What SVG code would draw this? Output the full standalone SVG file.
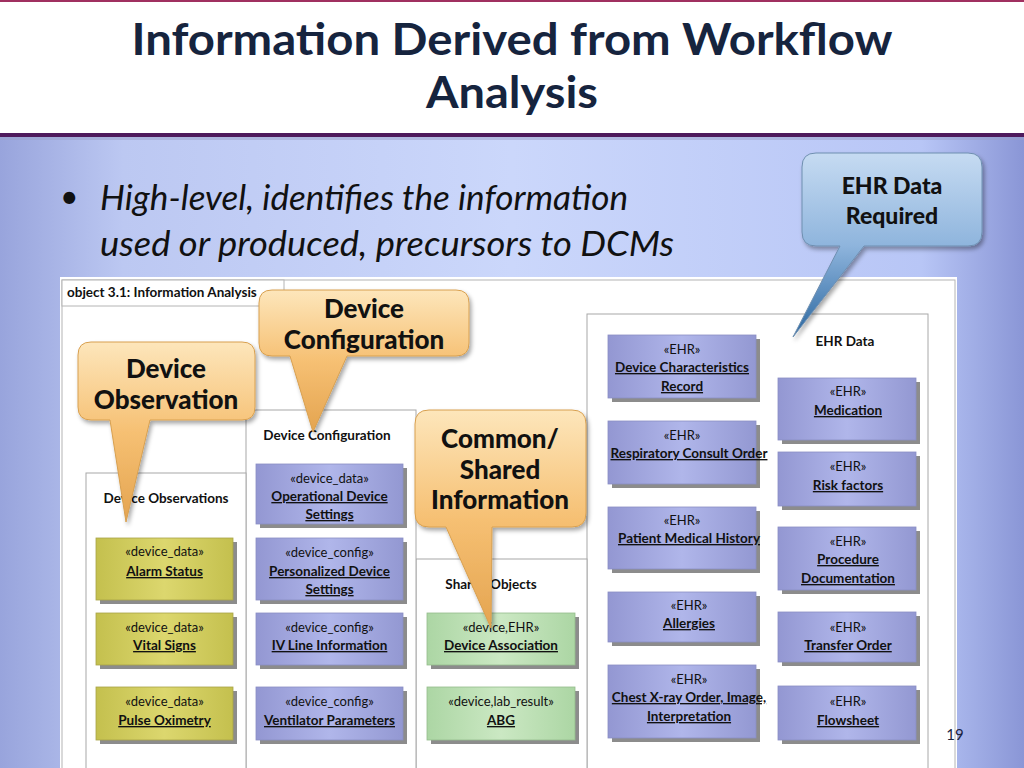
<svg xmlns="http://www.w3.org/2000/svg" width="1024" height="768" viewBox="0 0 1024 768">
<defs>
<linearGradient id="bg" x1="0" y1="0" x2="1" y2="0">
<stop offset="0" stop-color="#98a4dc"/><stop offset="0.12" stop-color="#bcc8f2"/><stop offset="0.5" stop-color="#cbd7fb"/><stop offset="0.9" stop-color="#b8c6f6"/><stop offset="1" stop-color="#8a96d6"/>
</linearGradient>
<linearGradient id="gb" x1="0" y1="0" x2="1" y2="0">
<stop offset="0" stop-color="#9397d2"/><stop offset="0.5" stop-color="#b0b6ea"/><stop offset="1" stop-color="#9398d2"/>
</linearGradient>
<linearGradient id="gy" x1="0" y1="0" x2="1" y2="0">
<stop offset="0" stop-color="#c4c04e"/><stop offset="0.5" stop-color="#dcd76e"/><stop offset="1" stop-color="#c4c04e"/>
</linearGradient>
<linearGradient id="gg" x1="0" y1="0" x2="1" y2="0">
<stop offset="0" stop-color="#acd6a4"/><stop offset="0.5" stop-color="#cbe8c3"/><stop offset="1" stop-color="#acd6a4"/>
</linearGradient>
<linearGradient id="co" x1="0" y1="0" x2="0" y2="1">
<stop offset="0" stop-color="#fde6bb"/><stop offset="0.5" stop-color="#f6c073"/><stop offset="1" stop-color="#e4a450"/>
</linearGradient>
<linearGradient id="cb" x1="0" y1="0" x2="0" y2="1">
<stop offset="0" stop-color="#c6dbf2"/><stop offset="0.5" stop-color="#8fb5dd"/><stop offset="1" stop-color="#2c68a0"/>
</linearGradient>
<filter id="sh" x="-10%" y="-10%" width="130%" height="130%">
<feDropShadow dx="2" dy="3" stdDeviation="2" flood-color="#000" flood-opacity="0.35"/>
</filter>
<style>
.pk{fill:#fff;stroke:#a8a8a8;stroke-width:1}
.sd{fill:#8c8c8c}
.b{fill:url(#gb);stroke:#8a8ec4;stroke-width:0.8}
.y{fill:url(#gy);stroke:#a8a448;stroke-width:0.8}
.g{fill:url(#gg);stroke:#94bc8c;stroke-width:0.8}
text{font-family:Lato,"Liberation Sans",sans-serif;fill:#111}
.st{font-size:13px;text-anchor:middle}
.nm{font-size:13.5px;font-weight:bold;text-anchor:middle;text-decoration:underline}
.pt{font-size:13.5px;font-weight:bold;text-anchor:middle}
.cl{font-size:26px;font-weight:900;text-anchor:middle;fill:#111}
.ocl{fill:url(#co);stroke:#d8a050;stroke-width:1;filter:url(#sh)}
.bcl{fill:url(#cb);stroke:#6f8fb0;stroke-width:1;filter:url(#sh)}
</style>
</defs>

<!-- slide background -->
<rect x="0" y="0" width="1024" height="768" fill="url(#bg)"/>
<rect x="0" y="0" width="1024" height="135" fill="#fff"/>
<rect x="0" y="0" width="1024" height="2" fill="#a03060"/>
<rect x="0" y="133" width="1024" height="4" fill="#4e1a5c"/>
<rect x="0" y="137" width="1024" height="3" fill="#9aa0c8" opacity="0.5"/>

<g id="title">
<text x="512" y="55" font-size="44" font-weight="bold" text-anchor="middle" style="fill:#16243e" textLength="761" lengthAdjust="spacingAndGlyphs">Information Derived from Workflow</text>
<text x="512" y="108" font-size="44" font-weight="bold" text-anchor="middle" style="fill:#16243e" textLength="172" lengthAdjust="spacingAndGlyphs">Analysis</text>
</g>

<g id="bullet">
<text x="60" y="208" font-size="32" style="fill:#111">•</text>
<text x="100" y="210" font-size="34" font-style="italic" textLength="528" lengthAdjust="spacingAndGlyphs">High-level, identifies the information</text>
<text x="100" y="256" font-size="34" font-style="italic" textLength="574" lengthAdjust="spacingAndGlyphs">used or produced, precursors to DCMs</text>
</g>

<!-- diagram frame -->
<g id="frame">
<rect x="60" y="277" width="897" height="491" fill="#fff"/>
<rect x="62" y="280" width="893" height="490" fill="none" stroke="#b4b4b4" stroke-width="1"/>
<rect x="62" y="280" width="222" height="26" fill="#fff" stroke="#b4b4b4" stroke-width="1"/>
<text x="67" y="297" font-size="13.5" font-weight="bold">object 3.1: Information Analysis</text>
</g>

<g id="pkg-ehr">
<rect class="pk" x="587" y="314" width="341" height="460"/>
<text class="pt" x="845" y="346">EHR Data</text>
</g>
<g id="pkg-shared">
<rect class="pk" x="416" y="559" width="171" height="215"/>
<text class="pt" x="491" y="589">Shared Objects</text>
</g>
<g id="pkg-config">
<rect class="pk" x="246" y="410" width="170" height="364"/>
<text class="pt" x="327" y="440">Device Configuration</text>
</g>
<g id="pkg-obs">
<rect class="pk" x="86" y="473" width="160" height="301"/>
<text class="pt" x="166" y="503">Device Observations</text>
</g>

<!-- Device Observations nodes -->
<g id="alarm-status">
<rect class="sd" x="100" y="542" width="137" height="62"/><rect class="y" x="96" y="538" width="137" height="62"/>
<text class="st" x="164.5" y="556">«device_data»</text><text class="nm" x="164.5" y="576">Alarm Status</text>
</g>
<g id="vital-signs">
<rect class="sd" x="100" y="617" width="137" height="52"/><rect class="y" x="96" y="613" width="137" height="52"/>
<text class="st" x="164.5" y="632">«device_data»</text><text class="nm" x="164.5" y="650">Vital Signs</text>
</g>
<g id="pulse-oximetry">
<rect class="sd" x="100" y="691" width="137" height="53"/><rect class="y" x="96" y="687" width="137" height="53"/>
<text class="st" x="164.5" y="706">«device_data»</text><text class="nm" x="164.5" y="725">Pulse Oximetry</text>
</g>

<!-- Device Configuration nodes -->
<g id="operational-device-settings">
<rect class="sd" x="260" y="468" width="147" height="60"/><rect class="b" x="256" y="464" width="147" height="60"/>
<text class="st" x="329.5" y="483">«device_data»</text><text class="nm" x="329.5" y="501">Operational Device </text><text class="nm" x="329.5" y="519">Settings</text>
</g>
<g id="personalized-device-settings">
<rect class="sd" x="260" y="542" width="147" height="62"/><rect class="b" x="256" y="538" width="147" height="62"/>
<text class="st" x="329.5" y="557">«device_config»</text><text class="nm" x="329.5" y="576">Personalized Device </text><text class="nm" x="329.5" y="594">Settings</text>
</g>
<g id="iv-line-information">
<rect class="sd" x="260" y="617" width="147" height="52"/><rect class="b" x="256" y="613" width="147" height="52"/>
<text class="st" x="329.5" y="632">«device_config»</text><text class="nm" x="329.5" y="650">IV Line Information</text>
</g>
<g id="ventilator-parameters">
<rect class="sd" x="260" y="691" width="147" height="53"/><rect class="b" x="256" y="687" width="147" height="53"/>
<text class="st" x="329.5" y="706">«device_config»</text><text class="nm" x="329.5" y="725">Ventilator Parameters</text>
</g>

<!-- Shared nodes -->
<g id="device-association">
<rect class="sd" x="431" y="617" width="148" height="52"/><rect class="g" x="427" y="613" width="148" height="52"/>
<text class="st" x="501" y="632">«device,EHR»</text><text class="nm" x="501" y="650">Device Association</text>
</g>
<g id="abg">
<rect class="sd" x="431" y="691" width="148" height="53"/><rect class="g" x="427" y="687" width="148" height="53"/>
<text class="st" x="501" y="706">«device,lab_result»</text><text class="nm" x="501" y="725">ABG</text>
</g>

<!-- EHR nodes left column -->
<g id="device-characteristics-record">
<rect class="sd" x="612" y="339" width="148" height="63"/><rect class="b" x="608" y="335" width="148" height="63"/>
<text class="st" x="682" y="354">«EHR»</text><text class="nm" x="682" y="372">Device Characteristics </text><text class="nm" x="682" y="391">Record</text>
</g>
<g id="respiratory-consult-order">
<rect class="sd" x="612" y="425" width="148" height="63"/><rect class="b" x="608" y="421" width="148" height="63"/>
<text class="st" x="682" y="440">«EHR»</text><text class="nm" x="689" y="458">Respiratory Consult Order</text>
</g>
<g id="patient-medical-history">
<rect class="sd" x="612" y="511" width="148" height="62"/><rect class="b" x="608" y="507" width="148" height="62"/>
<text class="st" x="682" y="525">«EHR»</text><text class="nm" x="689" y="543">Patient Medical History</text>
</g>
<g id="allergies">
<rect class="sd" x="612" y="596" width="148" height="50"/><rect class="b" x="608" y="592" width="148" height="50"/>
<text class="st" x="689" y="610">«EHR»</text><text class="nm" x="689" y="628">Allergies</text>
</g>
<g id="chest-xray">
<rect class="sd" x="612" y="669" width="148" height="73"/><rect class="b" x="608" y="665" width="148" height="73"/>
<text class="st" x="689" y="684">«EHR»</text><text class="nm" x="689" y="702">Chest X-ray Order, Image, </text><text class="nm" x="689" y="721">Interpretation</text>
</g>

<!-- EHR nodes right column -->
<g id="medication">
<rect class="sd" x="782" y="382" width="138" height="62"/><rect class="b" x="778" y="378" width="138" height="62"/>
<text class="st" x="848" y="396">«EHR»</text><text class="nm" x="848" y="415">Medication</text>
</g>
<g id="risk-factors">
<rect class="sd" x="782" y="456" width="138" height="54"/><rect class="b" x="778" y="452" width="138" height="54"/>
<text class="st" x="848" y="471">«EHR»</text><text class="nm" x="848" y="490">Risk factors</text>
</g>
<g id="procedure-documentation">
<rect class="sd" x="782" y="531" width="138" height="63"/><rect class="b" x="778" y="527" width="138" height="63"/>
<text class="st" x="848" y="546">«EHR»</text><text class="nm" x="848" y="564">Procedure </text><text class="nm" x="848" y="583">Documentation</text>
</g>
<g id="transfer-order">
<rect class="sd" x="782" y="616" width="138" height="50"/><rect class="b" x="778" y="612" width="138" height="50"/>
<text class="st" x="848" y="632">«EHR»</text><text class="nm" x="848" y="650">Transfer Order</text>
</g>
<g id="flowsheet">
<rect class="sd" x="782" y="690" width="138" height="54"/><rect class="b" x="778" y="686" width="138" height="54"/>
<text class="st" x="848" y="706">«EHR»</text><text class="nm" x="848" y="725">Flowsheet</text>
</g>

<!-- callouts -->
<g id="callout-device-observation">
<path class="ocl" d="M91,342 H242 Q255,342 255,355 V407 Q255,420 242,420 H150 L126,522 L110,420 H91 Q78,420 78,407 V355 Q78,342 91,342 Z"/>
<text class="cl" x="166" y="378">Device</text><text class="cl" x="166" y="409">Observation</text>
</g>
<g id="callout-device-configuration">
<path class="ocl" d="M272,290 H456 Q469,290 469,303 V343 Q469,356 456,356 H347 L313,432 L290,356 H272 Q259,356 259,343 V303 Q259,290 272,290 Z"/>
<text class="cl" x="364" y="318">Device</text><text class="cl" x="364" y="349">Configuration</text>
</g>
<g id="callout-common-shared">
<path class="ocl" d="M429,410 H572 Q586,410 586,424 V513 Q586,527 572,527 H492 L491,628 L446,527 H429 Q415,527 415,513 V424 Q415,410 429,410 Z"/>
<text class="cl" x="500" y="448">Common/</text><text class="cl" x="500" y="479">Shared</text><text class="cl" x="500" y="509">Information</text>
</g>
<g id="callout-ehr">
<path class="bcl" d="M816,153 H968 Q982,153 982,167 V232 Q982,246 968,246 H864 L793,337 L840,246 H816 Q802,246 802,232 V167 Q802,153 816,153 Z"/>
<text class="cl" x="892" y="194" style="font-size:23px">EHR Data</text><text class="cl" x="892" y="224" style="font-size:23px">Required</text>
</g>

<text x="955" y="740" font-size="15" text-anchor="middle" style="fill:#1a2440">19</text>
</svg>
